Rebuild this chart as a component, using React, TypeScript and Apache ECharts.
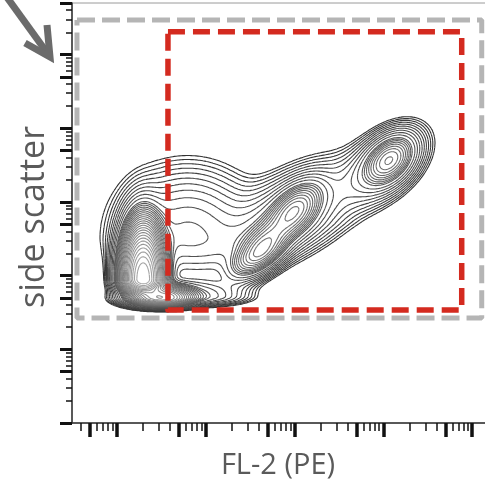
import React, { useEffect, useRef } from "react";
import * as echarts from "echarts";

// ---- axes (log10 units) ----
const X_MIN = 0.5;
const X_MAX = 5.2;
const Y_MIN = 0;
const Y_MAX = 5.7;
const decades = [0, 1, 2, 3, 4, 5];
const tickMultipliers = [1, 2, 3, 4, 5, 6, 7, 8, 9];
const longTickMultipliers = [1, 5];

// ---- axis titles ----
const xTitle = "FL-2 (PE)";
const yTitle = "side scatter";

// ---- cell populations (log10 FL-2, log10 SSC) ----
const popCx = [1.3, 1.5, 1.8, 1.95, 2.62, 3.0, 2.85, 4.07, 3.95];
const popCy = [1.95, 1.7, 2.55, 1.72, 2.33, 2.88, 2.7, 3.57, 3.45];
const popSx = [0.115, 0.18, 0.38, 0.25, 0.17, 0.16, 0.4, 0.15, 0.25];
const popSyUp = [0.36, 0.09, 0.42, 0.13, 0.22, 0.2, 0.38, 0.18, 0.27];
const popSyDown = [0.095, 0.055, 0.3, 0.06, 0.18, 0.2, 0.3, 0.18, 0.27];
const popRho = [0, 0, 0, 0, 0.6, 0.5, 0.6, 0.4, 0.5];
const popW = [3.0, 0.9, 0.06, 0.05, 0.24, 0.2, 0.06, 0.18, 0.04];

// ---- contour levels (density) ----
const LOW_LEVEL = 0.0022;
const BREAK_LEVEL = 0.04;
const LOW_RATIO = 1.38;
const HIGH_RATIO = 1.18;

// ---- gates (log10 units) ----
const grayGateX = [0.556, 5.107];
const grayGateY = [1.425, 5.47];
const redGateX = [1.579, 4.882];
const redGateY = [1.534, 5.31];

function density(x: number, y: number): number {
  let s = 0;
  for (let i = 0; i < popCx.length; i++) {
    const dx = (x - popCx[i]) / popSx[i];
    const sy = y >= popCy[i] ? popSyUp[i] : popSyDown[i];
    const dy = (y - popCy[i]) / sy;
    const r = popRho[i];
    const z = (dx * dx - 2 * r * dx * dy + dy * dy) / (2 * (1 - r * r));
    s += popW[i] * Math.exp(-z);
  }
  return s;
}

function buildContours() {
  const x0 = X_MIN, x1 = X_MAX, y0 = 1.0, y1 = 5.2;
  const nx = 250, ny = 225;
  const dx = (x1 - x0) / (nx - 1);
  const dy = (y1 - y0) / (ny - 1);
  const f: number[][] = [];
  let fmax = 0;
  for (let j = 0; j < ny; j++) {
    const row: number[] = [];
    for (let i = 0; i < nx; i++) {
      const v = density(x0 + i * dx, y0 + j * dy);
      row.push(v);
      if (v > fmax) fmax = v;
    }
    f.push(row);
  }
  const levels: number[] = [];
  let L = LOW_LEVEL;
  while (L < 0.95 * fmax) {
    levels.push(L);
    L *= L < BREAK_LEVEL ? LOW_RATIO : HIGH_RATIO;
  }
  const segs: number[][] = levels.map(() => []);
  const table: number[][] = [
    [], [3, 0], [0, 1], [3, 1], [1, 2], [3, 0, 1, 2], [0, 2], [3, 2],
    [2, 3], [0, 2], [0, 1, 2, 3], [1, 2], [1, 3], [0, 1], [0, 3], [],
  ];
  for (let j = 0; j < ny - 1; j++) {
    for (let i = 0; i < nx - 1; i++) {
      const v0 = f[j][i], v1 = f[j][i + 1], v2 = f[j + 1][i + 1], v3 = f[j + 1][i];
      const xa = x0 + i * dx, xb = xa + dx, ya = y0 + j * dy, yb = ya + dy;
      for (let k = 0; k < levels.length; k++) {
        const Lv = levels[k];
        const idx = (v0 > Lv ? 1 : 0) | (v1 > Lv ? 2 : 0) | (v2 > Lv ? 4 : 0) | (v3 > Lv ? 8 : 0);
        if (idx === 0 || idx === 15) continue;
        const e = table[idx];
        const pt = (edge: number): [number, number] => {
          if (edge === 0) return [xa + ((Lv - v0) / (v1 - v0)) * dx, ya];
          if (edge === 1) return [xb, ya + ((Lv - v1) / (v2 - v1)) * dy];
          if (edge === 2) return [xa + ((Lv - v3) / (v2 - v3)) * dx, yb];
          return [xa, ya + ((Lv - v0) / (v3 - v0)) * dy];
        };
        for (let m = 0; m < e.length; m += 2) {
          const a = pt(e[m]);
          const b = pt(e[m + 1]);
          segs[k].push(a[0], a[1], b[0], b[1]);
        }
      }
    }
  }
  return segs;
}

function ticks(long: boolean): number[] {
  const out: number[] = [];
  for (const d of decades) {
    for (const m of tickMultipliers) {
      const isLong = longTickMultipliers.indexOf(m) >= 0;
      if (isLong !== long) continue;
      out.push(d + Math.log10(m));
    }
  }
  return out;
}

function gatePoints(gx: number[], gy: number[]) {
  return [
    [gx[0], gy[1]], [gx[1], gy[1]], [gx[1], gy[0]], [gx[0], gy[0]], [gx[0], gy[1]],
  ];
}

export default function App() {
  const ref = useRef<HTMLDivElement>(null);
  useEffect(() => {
    if (!ref.current) return;
    const chart = echarts.init(ref.current, undefined, { renderer: "svg" });
    const segs = buildContours();
    const xShort = ticks(false).filter((v) => v >= X_MIN && v <= X_MAX);
    const xLong = ticks(true).filter((v) => v >= X_MIN && v <= X_MAX);
    const yShort = ticks(false).filter((v) => v >= Y_MIN && v <= Y_MAX + 0.001);
    const yLong = ticks(true).filter((v) => v >= Y_MIN && v <= Y_MAX + 0.001);
    const axisBase = { min: X_MIN, max: X_MAX, type: "value" as const, splitLine: { show: false }, axisLabel: { show: false } };
    const yBase = { min: Y_MIN, max: Y_MAX, type: "value" as const, splitLine: { show: false }, axisLabel: { show: false } };
    const option: any = {
      animation: false,
      grid: {
        left: 72, top: 3, width: 418, height: 420, show: true,
        borderColor: "#9a9a9a", borderWidth: 1, containLabel: false, outerBoundsMode: "none",
      },
      xAxis: [
        { ...axisBase, position: "bottom", axisLine: { show: true, lineStyle: { color: "#333", width: 1.5 } },
          axisTick: { show: true, customValues: xShort, length: 8, lineStyle: { color: "#111", width: 1.5 } } },
        { ...axisBase, position: "bottom", axisLine: { show: false },
          axisTick: { show: true, customValues: xLong, length: 14, lineStyle: { color: "#111", width: 3.5 } } },
      ],
      yAxis: [
        { ...yBase, position: "left", axisLine: { show: true, lineStyle: { color: "#333", width: 1.5 } },
          axisTick: { show: true, customValues: yShort, length: 6, lineStyle: { color: "#111", width: 1.5 } } },
        { ...yBase, position: "left", axisLine: { show: false },
          axisTick: { show: true, customValues: yLong, length: 12, lineStyle: { color: "#111", width: 3 } } },
      ],
      series: [
        {
          type: "custom",
          coordinateSystem: "cartesian2d",
          xAxisIndex: 0,
          yAxisIndex: 0,
          clip: true,
          silent: true,
          data: segs.map((_, i) => [X_MIN, Y_MIN, i]),
          encode: { x: 0, y: 1 },
          renderItem: (params: any, api: any) => {
            const s = segs[params.dataIndex];
            let d = "";
            for (let k = 0; k < s.length; k += 4) {
              const a = api.coord([s[k], s[k + 1]]);
              const b = api.coord([s[k + 2], s[k + 3]]);
              d += "M" + a[0].toFixed(1) + " " + a[1].toFixed(1) + "L" + b[0].toFixed(1) + " " + b[1].toFixed(1);
            }
            const t = params.dataIndex / (segs.length - 1);
            const g = Math.round(50 + t * 115);
            return {
              type: "path",
              shape: { pathData: d || "M0 0" },
              style: { stroke: `rgb(${g},${g},${g})`, fill: "none", lineWidth: 1.1 },
            };
          },
        },
        {
          type: "line",
          data: gatePoints(grayGateX, grayGateY),
          symbol: "none",
          silent: true,
          z: 5,
          lineStyle: { color: "#b5b5b5", width: 5, type: [18, 7], cap: "butt" },
        },
        {
          type: "line",
          data: gatePoints(redGateX, redGateY),
          symbol: "none",
          silent: true,
          z: 6,
          lineStyle: { color: "#d42a1f", width: 5.5, type: [17, 8], cap: "butt", join: "round" },
        },
      ],
      graphic: [
        {
          type: "line",
          shape: { x1: 6, y1: -4, x2: 48, y2: 54 },
          style: { stroke: "#6b6b6b", lineWidth: 7 },
        },
        {
          type: "polyline",
          shape: { points: [[25, 43], [50, 57], [47, 25]] },
          style: { stroke: "#6b6b6b", lineWidth: 7, fill: "none", lineJoin: "miter" },
        },
        {
          type: "text",
          x: 31,
          y: 217,
          rotation: Math.PI / 2,
          style: {
            text: yTitle,
            font: "34px 'Open Sans'",
            fill: "#5a5a5a",
            align: "center",
            verticalAlign: "middle",
          },
        },
        {
          type: "text",
          x: 278,
          y: 462,
          style: {
            text: xTitle,
            font: "29px 'Open Sans'",
            fill: "#5a5a5a",
            align: "center",
            verticalAlign: "middle",
          },
        },
      ],
    };
    chart.setOption(option);
    return () => chart.dispose();
  }, []);
  return <div ref={ref} style={{ position: "fixed", left: 0, top: 0, width: 485, height: 483 }} />;
}
